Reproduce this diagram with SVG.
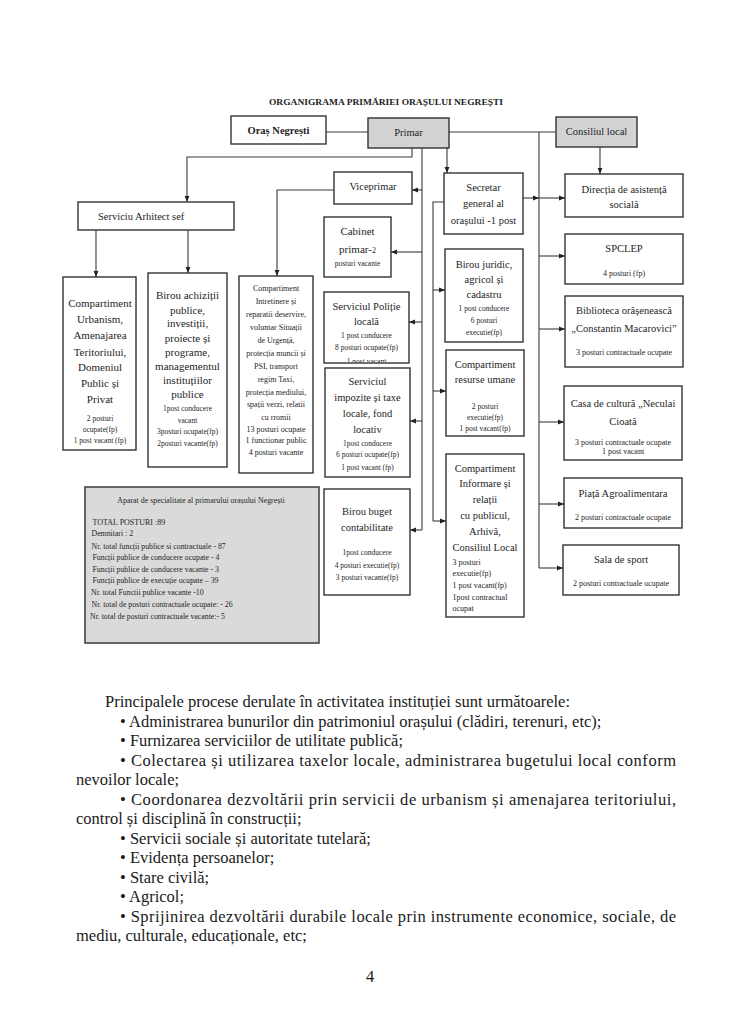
<svg xmlns="http://www.w3.org/2000/svg" width="740" height="1024" viewBox="0 0 740 1024">
<style>
.bg{fill:#ffffff}
.b{fill:#ffffff;stroke:#333;stroke-width:1.4}
.g{fill:#d3d3d3;stroke:#333;stroke-width:1.4}
.ap{fill:#dadada;stroke:#444;stroke-width:1.6}
text{font-family:"Liberation Serif","Times New Roman",serif;fill:#1e1e1e}
.m{text-anchor:middle}
.h{font-size:10.5px}
.hb{font-size:10.5px;font-weight:bold}
.t{font-size:10.5px}
.tl{font-size:11px}
.s{font-size:7.5px}
.sr{font-size:8px}
.s8{font-size:8px}
.ap7{font-size:7.8px}
.body{font-size:16.5px;fill:#1a1a1a}
.c{fill:none;stroke:#3a3a3a;stroke-width:1.1}
.ca{fill:none;stroke:#3a3a3a;stroke-width:1.1;marker-end:url(#a)}
</style>
<defs>
<marker id="a" viewBox="0 0 10 10" refX="10" refY="5" markerWidth="6" markerHeight="6" markerUnits="userSpaceOnUse" orient="auto"><path d="M0,1 L10,5 L0,9 z" fill="#222"/></marker>
<clipPath id="clipPol"><rect x="324" y="292" width="85" height="70"/></clipPath>
</defs>
<rect class="bg" x="0" y="0" width="740" height="1024"/>

<text class="m" x="386" y="105" font-size="9.2" font-weight="bold" textLength="234" lengthAdjust="spacingAndGlyphs">ORGANIGRAMA PRIMĂRIEI ORAȘULUI NEGREȘTI</text>

<g id="connectors">
<path class="c" d="M326,132 H368"/>
<path class="c" d="M449,132 H556"/>
<path class="c" d="M539,132 V568"/>
<path class="ca" d="M539,198 H565"/>
<path class="ca" d="M539,256 H565"/>
<path class="ca" d="M539,329 H565"/>
<path class="ca" d="M539,422 H564"/>
<path class="ca" d="M539,504 H564"/>
<path class="ca" d="M539,568 H563"/>
<path class="ca" d="M523,198 H539"/>
<path class="ca" d="M600,147 V174"/>
<path class="ca" d="M447,148 V173"/>
<path class="c" d="M422,148 V530"/>
<path class="ca" d="M422,190 H412"/>
<path class="ca" d="M422,252 H391"/>
<path class="ca" d="M422,322 H409"/>
<path class="ca" d="M422,421 H410"/>
<path class="ca" d="M422,530 H410"/>
<path class="ca" d="M412,148 V157 H187 V202"/>
<path class="ca" d="M96,230 V277"/>
<path class="ca" d="M188,230 V273"/>
<path class="ca" d="M334,190 H277 V276"/>
<path class="c" d="M444,202 H433 V521"/>
<path class="ca" d="M433,290 H445"/>
<path class="ca" d="M433,391 H446"/>
<path class="ca" d="M433,521 H446"/>
</g>

<g id="oras">
<rect class="b" x="231" y="116" width="95" height="28"/>
<text class="m hb" x="278.5" y="134">Oraș Negrești</text>
</g>
<g id="primar">
<rect class="g" x="368" y="118" width="81" height="30"/>
<text class="m h" x="408.5" y="136">Primar</text>
</g>
<g id="consiliul">
<rect class="g" x="556" y="117" width="81" height="30"/>
<text class="m h" x="596.5" y="135">Consiliul local</text>
</g>
<g id="viceprimar">
<rect class="b" x="334" y="172" width="78" height="32"/>
<text class="m h" x="373" y="190">Viceprimar</text>
</g>
<g id="arhitect">
<rect class="b" x="78" y="202" width="156" height="28"/>
<text class="h" x="98" y="219.5">Serviciu Arhitect sef</text>
</g>

<g id="urbanism">
<rect class="b" x="63" y="277" width="73" height="173"/>
<text class="m tl" x="100" y="307">Compartiment</text>
<text class="m tl" x="100" y="323">Urbanism,</text>
<text class="m tl" x="100" y="339">Amenajarea</text>
<text class="m tl" x="100" y="355.5">Teritoriului,</text>
<text class="m tl" x="100" y="371">Domeniul</text>
<text class="m tl" x="100" y="387">Public și</text>
<text class="m tl" x="100" y="403">Privat</text>
<text class="m s" x="100" y="421">2 posturi</text>
<text class="m s" x="100" y="432">ocupate(fp)</text>
<text class="m s" x="100" y="443">1 post  vacant (fp)</text>
</g>

<g id="achizitii">
<rect class="b" x="148" y="273" width="79" height="194"/>
<text class="m tl" x="187.5" y="299">Birou achiziții</text>
<text class="m tl" x="187.5" y="313.5">publice,</text>
<text class="m tl" x="187.5" y="327">investiții,</text>
<text class="m tl" x="187.5" y="341.5">proiecte și</text>
<text class="m tl" x="187.5" y="355.5">programe,</text>
<text class="m tl" x="187.5" y="369.5">managementul</text>
<text class="m tl" x="187.5" y="383.5">instituțiilor</text>
<text class="m tl" x="187.5" y="398">publice</text>
<text class="m s" x="187.5" y="411">1post conducere</text>
<text class="m s" x="187.5" y="422.5">vacant</text>
<text class="m s" x="187.5" y="434">3posturi ocupate(fp)</text>
<text class="m s" x="187.5" y="446">2posturi vacante(fp)</text>
</g>

<g id="intretinere">
<rect class="b" x="239" y="276" width="74" height="197"/>
<text class="m s8" x="276" y="291">Compartiment</text>
<text class="m s8" x="276" y="304">Intretinere și</text>
<text class="m s8" x="276" y="317">reparatii deservire,</text>
<text class="m s8" x="276" y="330">voluntar Situații</text>
<text class="m s8" x="276" y="343">de Urgență,</text>
<text class="m s8" x="276" y="356">protecția muncii și</text>
<text class="m s8" x="276" y="369">PSI, transport</text>
<text class="m s8" x="276" y="382">regim Taxi,</text>
<text class="m s8" x="276" y="394.5">protecția mediului,</text>
<text class="m s8" x="276" y="407">spații verzi, relatii</text>
<text class="m s8" x="276" y="419.5">cu rromii</text>
<text class="m s8" x="276" y="432">13  posturi ocupate</text>
<text class="m s8" x="276" y="443">1 functionar public</text>
<text class="m s8" x="276" y="454.5">4 posturi vacante</text>
</g>

<g id="cabinet">
<rect class="b" x="324" y="217" width="67" height="60"/>
<text class="m tl" x="357.5" y="235">Cabinet</text>
<text class="m tl" x="357.5" y="252.5">primar-<tspan font-size="8">2</tspan></text>
<text class="m s" x="357.5" y="266">posturi vacante</text>
</g>

<g id="politie">
<rect class="b" x="324" y="292" width="85" height="71"/>
<text class="m t" x="366.5" y="309.5">Serviciul Poliție</text>
<text class="m t" x="366.5" y="325">locală</text>
<text class="m s" x="366.5" y="337.5">1 post conducere</text>
<text class="m s" x="366.5" y="349.5">8 posturi ocupate(fp)</text>
<text class="m s" x="366.5" y="364" clip-path="url(#clipPol)">1 post vacant</text>
</g>

<g id="impozite">
<rect class="b" x="325" y="368" width="85" height="109"/>
<text class="m t" x="367.5" y="384.5">Serviciul</text>
<text class="m t" x="367.5" y="401">impozite și taxe</text>
<text class="m t" x="367.5" y="417">locale, fond</text>
<text class="m t" x="367.5" y="432.5">locativ</text>
<text class="m s" x="367.5" y="445.5">1post conducere</text>
<text class="m s" x="367.5" y="457">6 posturi ocupate(fp)</text>
<text class="m s" x="367.5" y="469.5">1 post vacant (fp)</text>
</g>

<g id="buget">
<rect class="b" x="324" y="489" width="86" height="106"/>
<text class="m t" x="367" y="514.5">Birou buget</text>
<text class="m t" x="367" y="531">contabilitate</text>
<text class="m s" x="367" y="555">1post conducere</text>
<text class="m s" x="367" y="567.5">4 posturi executie(fp)</text>
<text class="m s" x="367" y="579.5">3 posturi vacante(fp)</text>
</g>

<g id="secretar">
<rect class="b" x="444" y="173" width="79" height="61"/>
<text class="m t" x="483.5" y="190.5">Secretar</text>
<text class="m t" x="483.5" y="207">general al</text>
<text class="m t" x="483.5" y="223.5">orașului -1 post</text>
</g>

<g id="juridic">
<rect class="b" x="445" y="249" width="78" height="93"/>
<text class="m t" x="484" y="267.5">Birou juridic,</text>
<text class="m t" x="484" y="283">agricol și</text>
<text class="m t" x="484" y="297.5">cadastru</text>
<text class="m s" x="484" y="311">1 post conducere</text>
<text class="m s" x="484" y="323">6 posturi</text>
<text class="m s" x="484" y="335">executie(fp)</text>
</g>

<g id="resurse">
<rect class="b" x="446" y="350" width="78" height="86"/>
<text class="m t" x="485" y="367.5">Compartiment</text>
<text class="m t" x="485" y="383">resurse umane</text>
<text class="m s" x="485" y="408.5">2 posturi</text>
<text class="m s" x="485" y="419.5">executie(fp)</text>
<text class="m s" x="485" y="431">1 post vacant(fp)</text>
</g>

<g id="informare">
<rect class="b" x="446" y="454" width="78" height="163"/>
<text class="m t" x="485" y="472">Compartiment</text>
<text class="m t" x="485" y="487">Informare și</text>
<text class="m t" x="485" y="503">relații</text>
<text class="m t" x="485" y="518.5">cu publicul,</text>
<text class="m t" x="485" y="534.5">Arhivă,</text>
<text class="m t" x="485" y="550.5">Consiliul Local</text>
<text class="s8" x="452.5" y="564.5">3 posturi</text>
<text class="s8" x="452.5" y="576">executie(fp)</text>
<text class="s8" x="452.5" y="588">1 post vacant(fp)</text>
<text class="s8" x="452.5" y="599.5">1post contractual</text>
<text class="s8" x="452.5" y="611">ocupat</text>
</g>

<g id="directia">
<rect class="b" x="565" y="174" width="118" height="43"/>
<text class="m t" x="624" y="192.5">Direcția de asistență</text>
<text class="m t" x="624" y="208">socială</text>
</g>

<g id="spclep">
<rect class="b" x="565" y="234" width="118" height="50"/>
<text class="m t" x="624" y="252">SPCLEP</text>
<text class="m sr" x="624" y="276">4 posturi (fp)</text>
</g>

<g id="biblioteca">
<rect class="b" x="565" y="296" width="118" height="71"/>
<text class="m t" x="624" y="313.5">Biblioteca orășenească</text>
<text class="m t" x="624" y="332">„Constantin Macarovici”</text>
<text class="m sr" x="624" y="354.5">3  posturi contractuale ocupate</text>
</g>

<g id="casa">
<rect class="b" x="564" y="386" width="118" height="74"/>
<text class="m t" x="623" y="406.5">Casa de cultură „Neculai</text>
<text class="m t" x="623" y="425">Cioată</text>
<text class="m sr" x="623" y="444.5">3 posturi contractuale ocupate</text>
<text class="m sr" x="623" y="453.5">1 post vacant</text>
</g>

<g id="piata">
<rect class="b" x="564" y="478" width="118" height="50"/>
<text class="m t" x="623" y="497">Piață Agroalimentara</text>
<text class="m sr" x="623" y="519.5">2 posturi contractuale ocupate</text>
</g>

<g id="sala">
<rect class="b" x="563" y="545" width="116" height="50"/>
<text class="m t" x="621" y="563">Sala de sport</text>
<text class="m sr" x="621" y="586">2 posturi contractuale ocupate</text>
</g>

<g id="aparat">
<rect class="ap" x="85" y="487" width="234" height="156"/>
<text class="m" font-size="7.9" x="201" y="502.5">Aparat de specialitate al primarului orașului Negrești</text>
<text font-size="8" x="92.5" y="524.5">TOTAL POSTURI  :89</text>
<text class="ap7" x="91.5" y="536">Demnitari : 2</text>
<text class="ap7" x="91.5" y="548.5">Nr. total funcții publice si contractuale - 87</text>
<text class="ap7" x="92.5" y="560">Funcții publice de conducere ocupate - 4</text>
<text class="ap7" x="92.5" y="571.5">Funcții publice de conducere vacante - 3</text>
<text class="ap7" x="92.5" y="582.5">Funcții publice de execuție ocupate – 39</text>
<text class="ap7" x="91" y="594.5">Nr. total Functii publice vacante -10</text>
<text class="ap7" x="91.5" y="606.5">Nr. total de posturi contractuale ocupate: - 26</text>
<text class="ap7" x="90" y="618.5">Nr. total de posturi contractuale vacante:- 5</text>
</g>

<g id="body-text">
<text class="body" x="105" y="707">Principalele procese derulate în activitatea instituției sunt următoarele:</text>
<text class="body" x="120" y="726.5">• Administrarea bunurilor din patrimoniul orașului (clădiri, terenuri, etc);</text>
<text class="body" x="120" y="746">• Furnizarea serviciilor de utilitate publică;</text>
<text class="body" x="120" y="765.5" textLength="556" lengthAdjust="spacing">• Colectarea și utilizarea taxelor locale, administrarea bugetului local conform</text>
<text class="body" x="76" y="785">nevoilor locale;</text>
<text class="body" x="120" y="804.5" textLength="556" lengthAdjust="spacing">• Coordonarea dezvoltării prin servicii de urbanism și amenajarea teritoriului,</text>
<text class="body" x="76" y="824">control și disciplină în construcții;</text>
<text class="body" x="120" y="843.5">• Servicii sociale și autoritate tutelară;</text>
<text class="body" x="120" y="863">• Evidența persoanelor;</text>
<text class="body" x="120" y="882.5">• Stare civilă;</text>
<text class="body" x="120" y="902">• Agricol;</text>
<text class="body" x="120" y="921.5" textLength="556" lengthAdjust="spacing">• Sprijinirea dezvoltării durabile locale prin instrumente economice, sociale, de</text>
<text class="body" x="76" y="941">mediu, culturale, educaționale, etc;</text>
<text class="body m" x="370" y="982">4</text>
</g>
</svg>
